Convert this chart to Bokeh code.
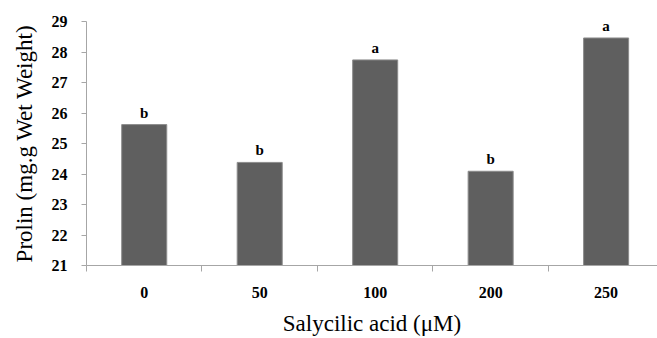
from bokeh.plotting import figure
from bokeh.models import Range1d, FixedTicker, ColumnDataSource
from bokeh.core.properties import value
from bokeh.embed import file_html
from bokeh.resources import INLINE

categories = ["0", "50", "100", "200", "250"]
prolin = [25.62, 24.38, 27.74, 24.09, 28.46]
letters = ["b", "b", "a", "b", "a"]
y_ticks = [21, 22, 23, 24, 25, 26, 27, 28, 29]

xpos = [i + 0.5 for i in range(len(categories))]
src = ColumnDataSource(dict(x=xpos, top=prolin, lab=letters))

p = figure(width=657, height=338, output_backend="svg", toolbar_location=None,
           x_range=Range1d(0, 4.945), y_range=Range1d(21, 29),
           min_border_left=86, min_border_right=0, min_border_top=21, min_border_bottom=70)
p.outline_line_color = None
p.grid.visible = False

p.vbar(x="x", top="top", bottom=21, width=0.39, source=src,
       fill_color="#5f5f5f", line_color="#8c8c8c", line_width=1)
p.text(x="x", y="top", text="lab", source=src, y_offset=-12,
       text_align="center", text_baseline="alphabetic",
       text_font=value("Liberation Serif"), text_font_style="bold",
       text_font_size="15px", text_color="#000000")

axis_col = "#a6a6a6"
xa = p.xaxis[0]
xa.ticker = FixedTicker(ticks=xpos, minor_ticks=[0, 1, 2, 3, 4])
xa.major_label_overrides = {x: c for x, c in zip(xpos, categories)}
xa.major_tick_out = 0
xa.major_tick_in = 0
xa.minor_tick_out = 6
xa.minor_tick_in = 0
xa.minor_tick_line_color = axis_col
xa.axis_line_color = axis_col
xa.major_label_standoff = 15
xa.major_label_text_font = "Liberation Serif"
xa.major_label_text_font_style = "bold"
xa.major_label_text_font_size = "16px"
xa.major_label_text_color = "#000000"
xa.axis_label = "Salycilic acid (μM)"
xa.axis_label_text_font = "Liberation Serif"
xa.axis_label_text_font_style = "normal"
xa.axis_label_text_font_size = "23px"
xa.axis_label_text_color = "#000000"
xa.axis_label_standoff = 10

ya = p.yaxis[0]
ya.ticker = FixedTicker(ticks=y_ticks)
ya.minor_tick_out = 0
ya.minor_tick_in = 0
ya.major_tick_out = 5
ya.major_tick_in = 0
ya.major_tick_line_color = axis_col
ya.axis_line_color = axis_col
ya.major_label_standoff = 14
ya.major_label_text_font = "Liberation Serif"
ya.major_label_text_font_style = "bold"
ya.major_label_text_font_size = "16px"
ya.major_label_text_color = "#000000"
ya.axis_label = "Prolin (mg.g Wet Weight)"
ya.axis_label_text_font = "Liberation Serif"
ya.axis_label_text_font_style = "normal"
ya.axis_label_text_font_size = "23px"
ya.axis_label_text_color = "#000000"
ya.axis_label_standoff = 12

open("out.html", "w").write(file_html(p, INLINE))
